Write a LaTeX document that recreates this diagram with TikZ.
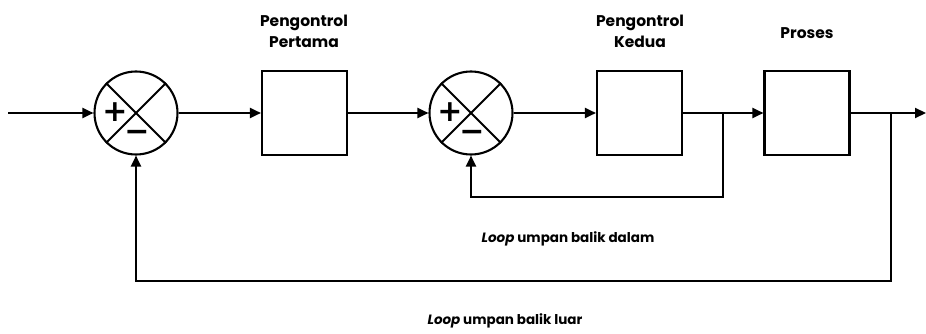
\documentclass[tikz,border=0pt]{standalone}
\usepackage{fontspec}
\setmainfont{Poppins}
\newfontfamily\signfont{DejaVu Sans}
\usetikzlibrary{arrows.meta}
\begin{document}
\begin{tikzpicture}[x=1pt,y=-1pt,line width=2.1pt,
  sig/.style={-{Triangle[length=11pt,width=10pt]}},
  block/.style={draw,minimum width=85pt,minimum height=84pt,inner sep=0pt},
  sumnode/.style={draw,circle,minimum size=83pt,inner sep=0pt},
  lbl/.style={font=\bfseries\fontsize{15.5}{21}\selectfont,align=center},
  looplbl/.style={font=\bfseries\fontsize{13.5}{15}\selectfont},
  sign/.style={font=\signfont\bfseries\fontsize{30}{30}\selectfont,inner sep=0pt}]
\useasboundingbox (0,0) rectangle (926,334);

% summing junctions and blocks
\node[sumnode] (s1) at (136,113) {};
\node[block]   (b1) at (304.5,113) {};
\node[sumnode] (s2) at (471,113) {};
\node[block]   (b2) at (639.5,113) {};
\node[block]   (b3) at (807,113) {};

% crosses inside the summing junctions
\foreach \s in {s1,s2}{
  \draw (\s.45) -- (\s.225);
  \draw (\s.135) -- (\s.-45);
}
\node[sign] (p1) at (115,112) {+};
\node[sign] (m1) at (137,136) {−};
\node[sign] (p2) at (450,112) {+};
\node[sign] (m2) at (472,136) {−};

% block titles
\node[lbl] (t1) at (304,31) {Pengontrol\\Pertama};
\node[lbl] (t2) at (640,31) {Pengontrol\\Kedua};
\node[lbl] (t3) at (807,33) {Proses};

% signal path
\coordinate (in)  at (8,113);
\coordinate (out) at (926,113);
\coordinate (j1)  at (723,113);
\coordinate (j2)  at (891,113);
\coordinate (c1)  at (723,197);
\coordinate (c2)  at (891,281);

\draw[sig] (in) -- (s1.west);
\draw[sig] (s1.east) -- (b1.west);
\draw[sig] (b1.east) -- (s2.west);
\draw[sig] (s2.east) -- (b2.west);
\draw (b2.east) -- (j1);
\draw[sig] (j1) -- (b3.west);
\draw (b3.east) -- (j2);
\draw[sig] (j2) -- (out);

% feedback loops
\draw[sig] (j1) -- (c1) -| (s2.south);
\draw[sig] (j2) -- (c2) -| (s1.south);

\node[looplbl] (l1) at (568,239) {\textit{Loop} umpan balik dalam};
\node[looplbl] (l2) at (505,321) {\textit{Loop} umpan balik luar};
\end{tikzpicture}
\end{document}
